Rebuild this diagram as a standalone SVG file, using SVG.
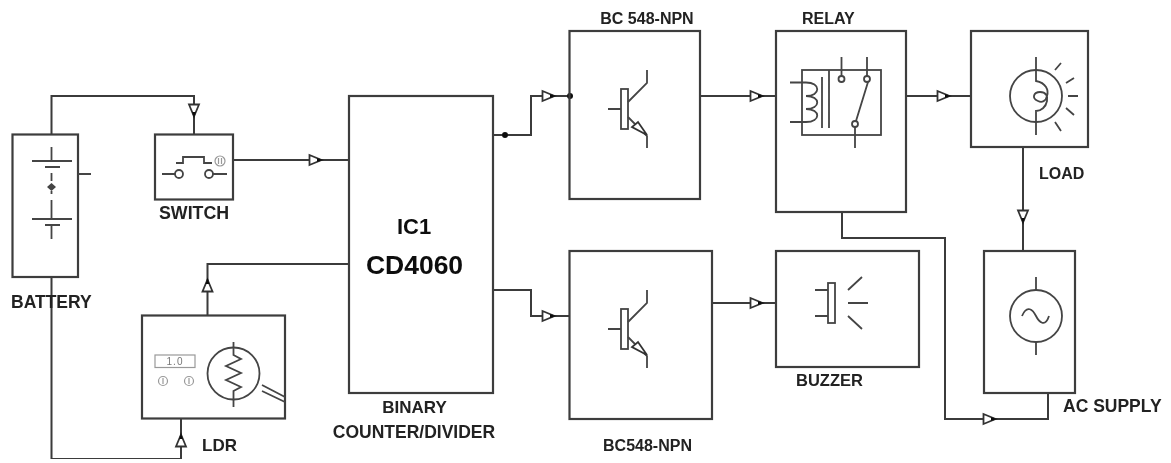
<svg xmlns="http://www.w3.org/2000/svg" width="1171" height="463" viewBox="0 0 1171 463">
<defs>
<style>
.box{fill:none;stroke:#3c3c3c;stroke-width:2.200}
.w{fill:none;stroke:#3a3a3a;stroke-width:2}
.s{fill:none;stroke:#444;stroke-width:1.800}
.g{fill:none;stroke:#999;stroke-width:1.200}
.a{fill:#fff;stroke:#333;stroke-width:1.800}
.d{fill:#111;stroke:none}
text{font-family:"Liberation Sans",Arial,sans-serif;font-weight:bold;fill:#222;font-size:17px}
</style>
<filter id="soft" x="0" y="0" width="100%" height="100%"><feGaussianBlur stdDeviation="0.45"/></filter>
<g id="arr"><path class="a" d="M-6.500,-5 L5.500,0 L-6.500,5 Z"/><path class="d" d="M1,-2 L7.500,0 L1,2 Z"/></g>
<g id="npn">
<rect class="s" x="621" y="0" width="7" height="40" fill="#eee"/>
<path class="s" d="M608,20 H621 M628,13 L647,-6 V-19 M628,28 L647,47 V59"/>
<path class="a" d="M647,46 L638,33 L632,38 Z" style="stroke-width:1.800"/>
</g>
</defs>
<rect width="1171" height="463" fill="#fff"/>
<g filter="url(#soft)">
<g id="connectors">
<path class="w" d="M51.500,134 V96 H194 V134"/>
<path class="w" d="M51.500,277 V459 H181 V418"/>
<path class="w" d="M207.500,315 V264 H349"/>
<path class="w" d="M233,160 H349"/>
<path class="w" d="M493,135 H531 V96 H570"/>
<path class="w" d="M493,290 H531 V316 H570"/>
<path class="w" d="M700,96 H776"/>
<path class="w" d="M906,96 H971"/>
<path class="w" d="M712,303 H776"/>
<path class="w" d="M1023,147 V251"/>
<path class="w" d="M842,212 V238 H945 V419 H1048 V393"/>
<use href="#arr" transform="translate(194,111) rotate(90)"/>
<use href="#arr" transform="translate(181,440) rotate(-90)"/>
<use href="#arr" transform="translate(207.500,285) rotate(-90)"/>
<use href="#arr" transform="translate(316,160)"/>
<use href="#arr" transform="translate(549,96)"/>
<use href="#arr" transform="translate(549,316)"/>
<use href="#arr" transform="translate(757,96)"/>
<use href="#arr" transform="translate(944,96)"/>
<use href="#arr" transform="translate(757,303)"/>
<use href="#arr" transform="translate(1023,217) rotate(90)"/>
<use href="#arr" transform="translate(990,419)"/>
<circle class="d" cx="505" cy="135" r="3"/>
<circle class="d" cx="570" cy="96" r="3"/>
</g>
<g id="battery">
<rect class="box" x="12.500" y="134.500" width="65.500" height="142.500"/>
<path class="s" d="M51.500,147 V161 M32,161 H72 M45,167 H60 M51.500,173 V181 M51.500,191 V194 M51.500,200 V207 M51.500,207 V219 M32,219 H72 M45,225 H60 M51.500,225 V239 M78,174 H91"/>
<path d="M51.500,183 L56,187 L51.500,191 L47,187 Z" fill="#444"/>
<text x="11" y="308" style="font-size:17.500px">BATTERY</text>
</g>
<g id="switch">
<rect class="box" x="155" y="134.500" width="78" height="65"/>
<path class="s" d="M162,174 H175 M213,174 H227 M176,163 H183 V157 H204 V163 H212"/>
<circle class="s" cx="179" cy="174" r="4"/>
<circle class="s" cx="209" cy="174" r="4"/>
<circle class="g" cx="220" cy="161" r="5"/>
<path class="g" d="M218.500,158 V164 M221.500,158 V164"/>
<text x="159" y="219" style="font-size:17.800px">SWITCH</text>
</g>
<g id="ldr">
<rect class="box" x="142" y="315.500" width="143" height="103"/>
<rect class="g" x="155" y="355" width="40" height="12.500"/>
<text x="175" y="365" text-anchor="middle" style="font-size:10px;font-weight:normal;fill:#777;letter-spacing:1px">1.0</text>
<circle class="g" cx="163" cy="381" r="4.500"/>
<circle class="g" cx="189" cy="381" r="4.500"/>
<path class="g" d="M163,378 V384 M189,378 V384"/>
<circle class="s" cx="233.500" cy="373.500" r="26"/>
<path class="s" d="M233.500,342 V355 L241,359 L226,366 L241,373 L226,380 L241,387 L233.500,391 V407"/>
<path class="s" d="M262,385 L285,397 M262,391 L285,402"/>
<text x="202" y="451">LDR</text>
</g>
<g id="ic">
<rect class="box" x="349" y="96" width="144" height="297"/>
<text x="414" y="234" text-anchor="middle" style="font-size:22px;fill:#111">IC1</text>
<text x="414.500" y="274" text-anchor="middle" style="font-size:26.500px;fill:#111">CD4060</text>
<text x="414.500" y="413" text-anchor="middle">BINARY</text>
<text x="414" y="438" text-anchor="middle" style="font-size:17.500px">COUNTER/DIVIDER</text>
</g>
<g id="npn1">
<rect class="box" x="569.500" y="31" width="130.500" height="168"/>
<use href="#npn" transform="translate(0,89)"/>
<text x="647" y="24" text-anchor="middle" style="font-size:16px">BC 548-NPN</text>
</g>
<g id="npn2">
<rect class="box" x="569.500" y="251" width="142.500" height="168"/>
<use href="#npn" transform="translate(0,309)"/>
<text x="647.500" y="451" text-anchor="middle" style="font-size:16px">BC548-NPN</text>
</g>
<g id="relay">
<rect class="box" x="776" y="31" width="130" height="181"/>
<rect class="s" x="802" y="70" width="79" height="65"/>
<path class="s" d="M790,82.500 H806 C821,82.500 821,96 806,96 C821,96 821,109 806,109 C821,109 821,122 806,122 H790 M822,77 V128 M829,70 V128 M841.500,57 V76 M867,57 V76 M855,127 V148 M856,121 L868,82"/>
<circle class="s" cx="841.500" cy="79" r="3"/>
<circle class="s" cx="867" cy="79" r="3"/>
<circle class="s" cx="855" cy="124" r="3"/>
<text x="802" y="24" style="font-size:16px">RELAY</text>
</g>
<g id="load">
<rect class="box" x="971" y="31" width="117" height="116"/>
<circle class="s" cx="1036" cy="96" r="26"/>
<path class="s" d="M1036,57 V81 C1046,83 1049,90 1047,96 C1046,101 1042,103 1038,101 C1031,98 1034,92 1040,92 C1046,92 1048,96 1047,101 C1046,107 1041,111 1036,111 V135"/>
<path class="s" d="M1055,70 L1061,63 M1066,83 L1074,78 M1068,96 H1078 M1066,108 L1074,115 M1055,122 L1061,131"/>
<text x="1039" y="179" style="font-size:16px">LOAD</text>
</g>
<g id="buzzer">
<rect class="box" x="776" y="251" width="143" height="116"/>
<rect class="s" x="828" y="283" width="7" height="40"/>
<path class="s" d="M815,290 H828 M815,316 H828 M848,290 L862,277 M848,303 H868 M848,316 L862,329"/>
<text x="796" y="386" style="font-size:16.500px">BUZZER</text>
</g>
<g id="ac">
<rect class="box" x="984" y="251" width="91" height="142"/>
<circle class="s" cx="1036" cy="316" r="26"/>
<path class="s" d="M1036,277 V290 M1036,342 V355 M1022,316 C1027,304 1033,310 1036,316 C1039,322 1045,328 1049,316"/>
<text x="1063" y="412" style="font-size:17.500px">AC SUPPLY</text>
</g>
</g>
</svg>
